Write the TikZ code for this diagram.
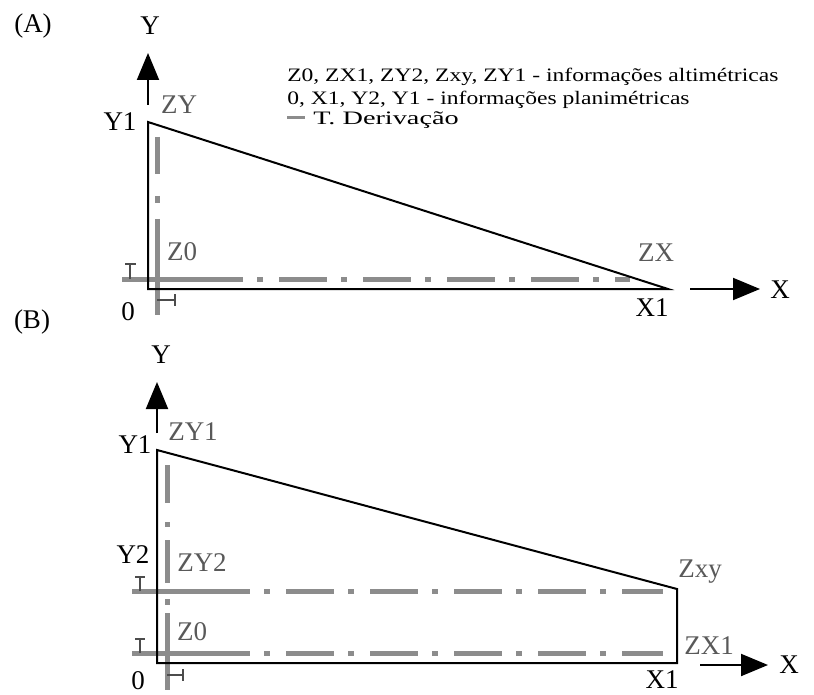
\documentclass[tikz,border=0pt]{standalone}
\usepackage{fontspec}
\setmainfont{Liberation Serif}
\usetikzlibrary{arrows.meta}
\begin{document}
\begin{tikzpicture}[x=1pt,y=-1pt,
  blk/.style={line width=2pt, black, line join=miter},
  gr/.style={line width=5pt, color=black!45},
  grdash/.style={gr, dash pattern=on 6pt off 16pt on 48pt off 14pt},
  tickmark/.style={line width=1.6pt, color=black!70},
  axarrow/.style={line width=2pt, -{Triangle[length=27pt,width=22pt]}},
  lab/.style={font=\fontsize{27}{27}\selectfont, inner sep=0pt},
  zlab/.style={lab, text=black!65},
  leg/.style={font=\fontsize{19}{19}\selectfont, inner sep=0pt, anchor=west, xscale=1.24}
]
\useasboundingbox (0,0) rectangle (814,695);

% ---------------- Panel A ----------------
\coordinate (A0) at (148,289);
\coordinate (AY1) at (148,122);
\coordinate (AX1) at (668,289);
\coordinate (AYs) at (148,105);
\coordinate (AYt) at (148,53);
\coordinate (AXs) at (690,289);
\coordinate (AXt) at (760,289);

\draw[gr] (122,279) -- (243,279);
\draw[grdash] (257,279) -- (630,279);
\draw[gr] (157,137) -- (157,174) (157,196) -- (157,203) (157,219) -- (157,315);
\draw[tickmark] (130,279) -- (130,264) (125,264) -- (136,264);
\draw[tickmark] (157,300) -- (175,300) (175,294) -- (175,306);

\draw[blk] (AY1) -- (A0) -- (AX1) -- cycle;
\draw[axarrow] (AYs) -- (AYt);
\draw[axarrow] (AXs) -- (AXt);

\node[lab] (labA) at (33,26) {(A)};
\node[lab] (aY) at (150,26) {Y};
\node[lab] (aY1) at (120,122) {Y1};
\node[zlab] (aZY) at (179,105) {ZY};
\node[zlab] (aZ0) at (182,252) {Z0};
\node[lab] (a0) at (128,312) {0};
\node[zlab] (aZX) at (656,253) {ZX};
\node[lab] (aX1) at (652,308) {X1};
\node[lab] (aX) at (780,290) {X};

% legend
\node[leg] (leg1) at (287,77) {Z0, ZX1, ZY2, Zxy, ZY1 - informações altimétricas};
\node[leg] (leg2) at (287,100) {0, X1, Y2, Y1 - informações planimétricas};
\coordinate (lgs) at (287,118);
\coordinate (lge) at (305,118);
\draw[gr, line width=3pt] (lgs) -- (lge);
\node[leg, font=\fontsize{19}{19}\selectfont, xscale=1.2] (leg3) at (313,120) {T. Derivação};

% ---------------- Panel B ----------------
\coordinate (B0) at (157,663);
\coordinate (BY1) at (157,450);
\coordinate (BXY) at (677,589);
\coordinate (BX1) at (677,663);
\coordinate (BYs) at (157,433);
\coordinate (BYt) at (157,382);
\coordinate (BXs) at (700,665);
\coordinate (BXt) at (768,665);

\draw[gr] (132,591) -- (250,591);
\draw[grdash] (264,591) -- (663,591);
\draw[gr] (132,653) -- (250,653);
\draw[grdash] (264,653) -- (663,653);
\draw[gr] (167,465) -- (167,503) (167,522) -- (167,527) (167,540) -- (167,583)
          (167,599) -- (167,605) (167,613) -- (167,690);
\draw[tickmark] (140,591) -- (140,577) (135,577) -- (145,577);
\draw[tickmark] (140,653) -- (140,639) (135,639) -- (145,639);
\draw[tickmark] (167,675) -- (183,675) (183,669) -- (183,681);

\draw[blk] (BY1) -- (B0) -- (BX1) -- (BXY) -- cycle;
\draw[axarrow] (BYs) -- (BYt);
\draw[axarrow] (BXs) -- (BXt);

\node[lab] (labB) at (32,322) {(B)};
\node[lab] (bY) at (161,355) {Y};
\node[lab] (bY1) at (135,445) {Y1};
\node[zlab] (bZY1) at (193,432) {ZY1};
\node[lab] (bY2) at (133,555) {Y2};
\node[zlab] (bZY2) at (202,563) {ZY2};
\node[zlab] (bZ0) at (192,632) {Z0};
\node[lab] (b0) at (138,681) {0};
\node[zlab] (bZxy) at (700,572) {Zxy};
\node[zlab] (bZX1) at (709,646) {ZX1};
\node[lab] (bX1) at (662,680) {X1};
\node[lab] (bX) at (789,665) {X};
\end{tikzpicture}
\end{document}
